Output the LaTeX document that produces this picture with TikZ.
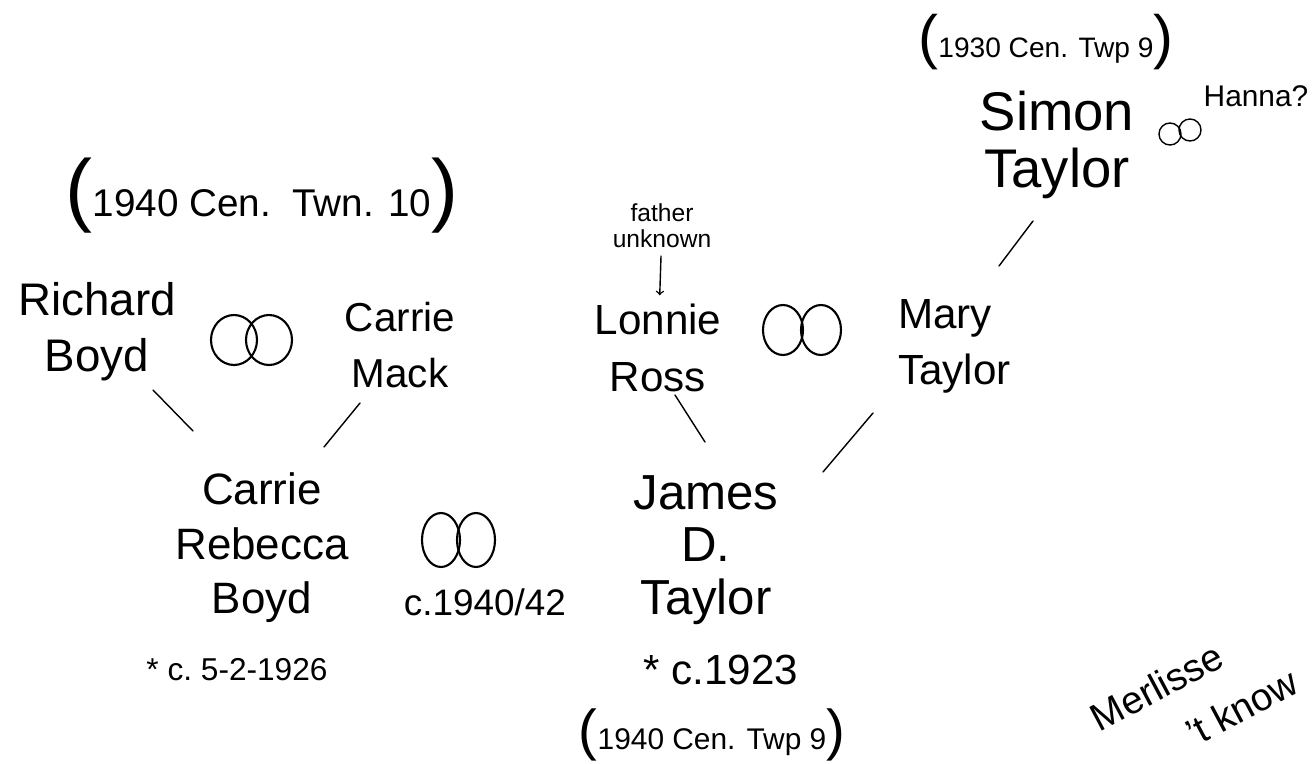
\documentclass[tikz,border=0pt]{standalone}
\usepackage{fontspec}
\setmainfont{Liberation Sans}
\usetikzlibrary{arrows,positioning}
\tikzset{
    %Define standard arrow tip
    >=stealth',
    %Define style for names
    person/.style={
           align=center,
           inner sep=1pt,
           font=\fontsize{24}{32}\selectfont},
    child/.style={
           person,
           font=\fontsize{25}{31}\selectfont},
    % Define style for notes
    note/.style={
           inner sep=1pt,
           font=\fontsize{21}{24}\selectfont},
    small/.style={
           align=center,
           inner sep=1pt,
           font=\fontsize{14}{15}\selectfont},
    % Define line styles
    descent/.style={
           thick,
           line cap=round},
    rings/.style={
           very thick},
}

\begin{document}
\begin{tikzpicture}[x=0.02cm, y=-0.02cm]
    \useasboundingbox (0,0) rectangle (1313,764);
 %nodes
    \node[note, font=\fontsize{22}{24}\selectfont] (cen1) at (262,196)
        {{\fontsize{46}{46}\selectfont(}1940 Cen.\ \ Twn. 10{\fontsize{46}{46}\selectfont)}};
    \node[person, font=\fontsize{26}{32}\selectfont] (rb) at (97,332) {Richard\\Boyd};
    \node[person, font=\fontsize{23}{32}\selectfont] (cm) at (400,345) {Carrie\\Mack};
    \node[small] (fu) at (662,226) {father\\unknown};
    \node[person] (lr) at (658,348) {Lonnie\\Ross};
    \node[person, align=left, anchor=west] (mt) at (896,346) {Mary\\Taylor};
    \node[note, font=\fontsize{16}{18}\selectfont] (cen2) at (1046,42)
        {{\fontsize{34}{34}\selectfont(}1930 Cen. Twp 9{\fontsize{34}{34}\selectfont)}};
    \node[person, font=\fontsize{31}{32}\selectfont] (st) at (1057,145) {Simon\\Taylor};
    \node[note, font=\fontsize{17}{18}\selectfont] (hanna) at (1256,96) {Hanna?};
    \node[child] (crb) at (262,548) {Carrie\\Rebecca\\Boyd};
    \node[note] (wed) at (485,602) {c.1940/42};
    \node[note, font=\fontsize{18}{20}\selectfont] (b1) at (237,670) {* c.\ 5-2-1926};
    \node[child, font=\fontsize{28}{30}\selectfont] (jdt) at (706,550) {James\\D.\\Taylor};
    \node[note, font=\fontsize{24}{26}\selectfont] (b2) at (721,670) {* c.1923};
    \node[note, font=\fontsize{17}{18}\selectfont] (cen3) at (712,735)
        {{\fontsize{32}{32}\selectfont(}1940 Cen. Twp 9{\fontsize{32}{32}\selectfont)}};
    \node[note, align=left, rotate=28, font=\fontsize{22}{33}\selectfont] (ml) at (1194,700)
        {Merlisse\\\hspace{2em}'t know};
 %rings
    \draw[rings] (234,340) ellipse (0.46cm and 0.5cm);
    \draw[rings] (269,340) ellipse (0.46cm and 0.5cm);
    \draw[rings] (783,330) ellipse (0.4cm and 0.5cm);
    \draw[rings] (821,330) ellipse (0.4cm and 0.5cm);
    \draw[rings] (441,540) ellipse (0.38cm and 0.54cm);
    \draw[rings] (476,540) ellipse (0.38cm and 0.54cm);
    \draw[thick] (1170,134) ellipse (0.22cm and 0.22cm);
    \draw[thick] (1190,130) ellipse (0.22cm and 0.22cm);
 %coordinates
    \coordinate (rb-out) at (153,390);
    \coordinate (crb-in1) at (193,431);
    \coordinate (cm-out) at (360,403);
    \coordinate (crb-in2) at (324,447);
    \coordinate (lr-out) at (675,395);
    \coordinate (jdt-in1) at (705,442);
    \coordinate (mt-out) at (873,413);
    \coordinate (jdt-in2) at (823,472);
    \coordinate (st-out) at (1033,221);
    \coordinate (mt-in) at (999,266);
 %edges
    \draw[descent] (rb-out) -- (crb-in1);
    \draw[descent] (cm-out) -- (crb-in2);
    \draw[descent] (lr-out) -- (jdt-in1);
    \draw[descent] (mt-out) -- (jdt-in2);
    \draw[descent] (st-out) -- (mt-in);
    \draw[->, >=to, thick, shorten <=3pt, shorten >=4pt] (fu) -- (lr);
\end{tikzpicture}
\end{document}
